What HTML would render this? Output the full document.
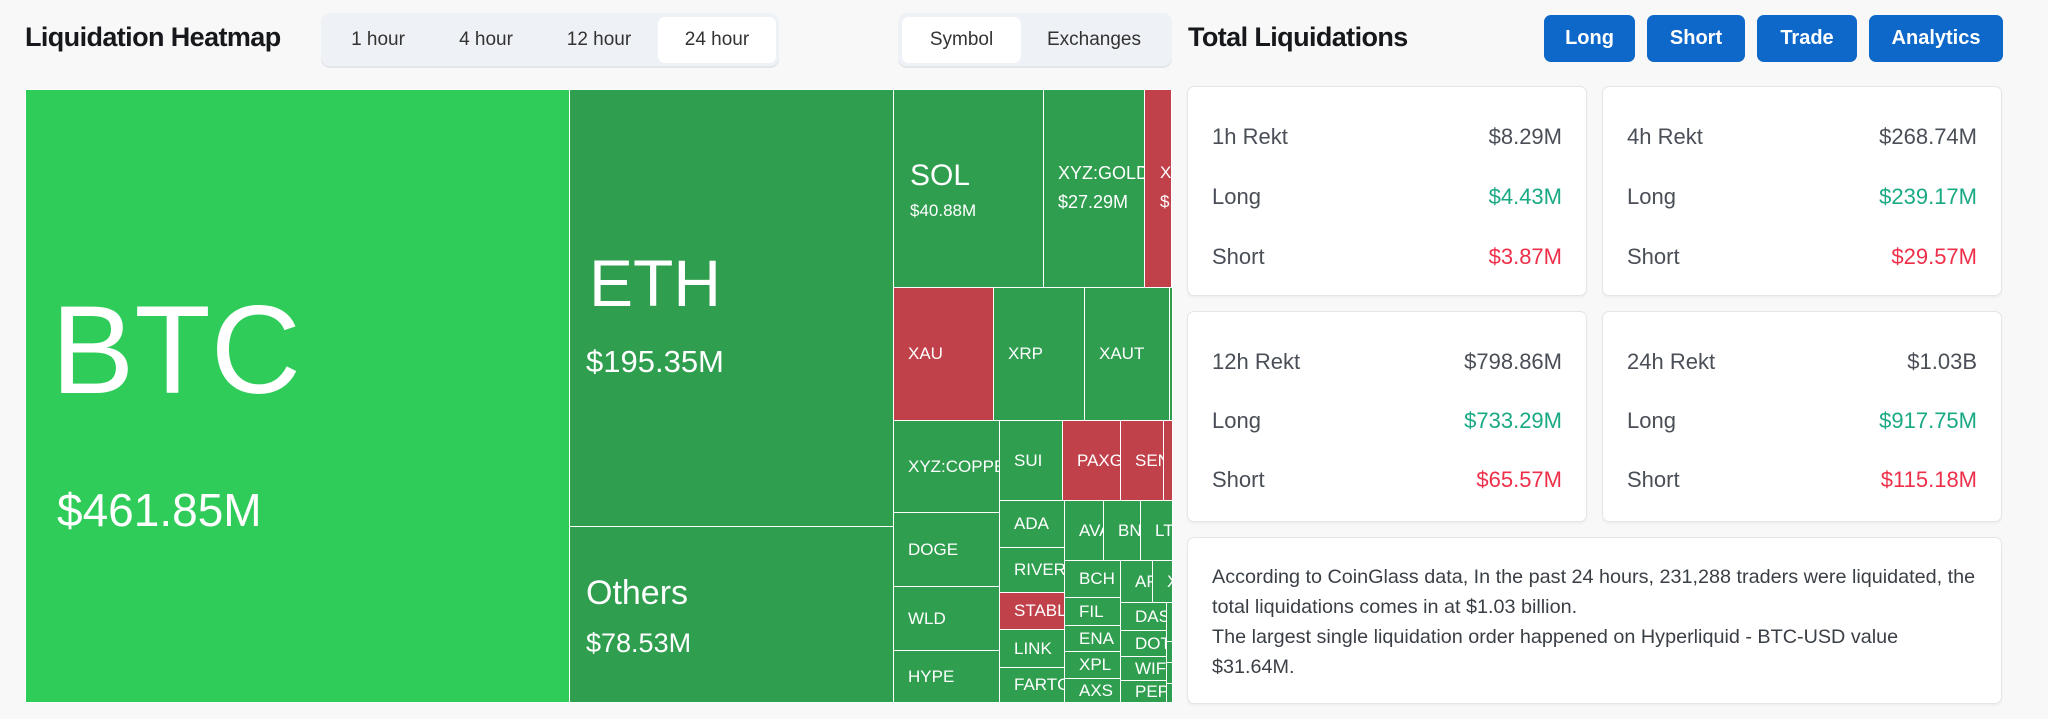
<!DOCTYPE html>
<html><head><meta charset="utf-8"><style>
*{box-sizing:border-box;margin:0;padding:0}
body{width:2048px;height:719px;background:#f8f8f8;font-family:"Liberation Sans",sans-serif;position:relative;overflow:hidden;color:#1f2328}
.a{position:absolute}
.h{font-weight:bold;font-size:27px;letter-spacing:-0.6px;color:#16181c}
.grp{background:#eef1f5;border-radius:9px;box-shadow:0 2px 0 #e2e5ea}
.tab{position:absolute;top:0;height:100%;display:flex;align-items:center;justify-content:center;font-size:19px;color:#333}
.act{background:#fff;border-radius:7px}
.btn{position:absolute;top:15px;height:47px;background:#0e68c9;color:#fff;border-radius:7px;font-weight:bold;font-size:20px;display:flex;align-items:center;justify-content:center}
.c{position:absolute;border:1px solid #fff;background:#2f9e4f;color:#fff;overflow:hidden;white-space:nowrap;font-size:17px;display:flex;align-items:center;padding-left:14px}
.r{background:#c1414a}
.card{position:absolute;background:#fff;border:1px solid #e3e5e8;border-radius:7px;box-shadow:0 2px 2px rgba(0,0,0,.04)}
.row{position:absolute;left:24px;right:24px;font-size:22px;color:#4a4f57;display:flex;justify-content:space-between}
.g{color:#1aa985}.rd{color:#ee2f4a}
</style></head><body>
<div class="a h" style="left:25px;top:22px">Liquidation Heatmap</div>
<div class="a grp" style="left:321px;top:13px;width:458px;height:53px">
<div class="tab" style="left:10px;width:94px">1 hour</div>
<div class="tab" style="left:118px;width:94px">4 hour</div>
<div class="tab" style="left:228px;width:100px">12 hour</div>
<div class="tab act" style="left:337px;top:4px;height:46px;width:118px">24 hour</div>
</div>
<div class="a grp" style="left:898px;top:13px;width:274px;height:53px">
<div class="tab act" style="left:4px;top:4px;height:46px;width:119px">Symbol</div>
<div class="tab" style="left:130px;width:132px">Exchanges</div>
</div>
<div class="a h" style="left:1188px;top:22px">Total Liquidations</div>
<div class="btn" style="left:1544px;width:91px">Long</div>
<div class="btn" style="left:1647px;width:98px">Short</div>
<div class="btn" style="left:1757px;width:100px">Trade</div>
<div class="btn" style="left:1869px;width:134px">Analytics</div>

<!-- treemap -->
<div class="c" style="left:25px;top:89px;width:545px;height:614px;background:#30cc5a;display:block;padding:0">
<div class="a" style="left:25px;top:198px;font-size:125px;line-height:1">BTC</div>
<div class="a" style="left:31px;top:397px;font-size:46px;line-height:1">$461.85M</div>
</div>
<div class="c" style="left:569px;top:89px;width:325px;height:438px;display:block;padding:0">
<div class="a" style="left:19px;top:160px;font-size:66px;line-height:1">ETH</div>
<div class="a" style="left:16px;top:256px;font-size:31px;line-height:1">$195.35M</div>
</div>
<div class="c" style="left:569px;top:526px;width:325px;height:177px;display:block;padding:0">
<div class="a" style="left:16px;top:49px;font-size:34px;line-height:1">Others</div>
<div class="a" style="left:16px;top:103px;font-size:27px;line-height:1">$78.53M</div>
</div>
<div class="c" style="left:893px;top:89px;width:151px;height:199px;display:block;padding:0">
<div class="a" style="left:16px;top:71px;font-size:30px;line-height:1">SOL</div>
<div class="a" style="left:16px;top:112px;font-size:17px;line-height:1">$40.88M</div>
</div>
<div class="c" style="left:1043px;top:89px;width:102px;height:199px;display:block;padding:0">
<div class="a" style="left:14px;top:74px;font-size:18px;line-height:1">XYZ:GOLD</div>
<div class="a" style="left:14px;top:103px;font-size:18px;line-height:1">$27.29M</div>
</div>
<div class="c r" style="left:1144px;top:89px;width:28px;height:199px;display:block;padding:0">
<div class="a" style="left:15px;top:74px;font-size:17px;line-height:1">XY</div>
<div class="a" style="left:15px;top:103px;font-size:17px;line-height:1">$1</div>
</div>
<div class="c r" style="left:893px;top:287px;width:101px;height:134px">XAU</div>
<div class="c" style="left:993px;top:287px;width:92px;height:134px">XRP</div>
<div class="c" style="left:1084px;top:287px;width:86px;height:134px">XAUT</div>
<div class="c" style="left:1169px;top:287px;width:4px;height:134px;padding:0"></div>
<div class="c" style="left:893px;top:420px;width:107px;height:93px">XYZ:COPPER</div>
<div class="c" style="left:999px;top:420px;width:64px;height:81px">SUI</div>
<div class="c r" style="left:1062px;top:420px;width:59px;height:81px">PAXG</div>
<div class="c r" style="left:1120px;top:420px;width:44px;height:81px">SEN</div>
<div class="c r" style="left:1163px;top:420px;width:10px;height:81px;padding:0"></div>
<div class="c" style="left:893px;top:512px;width:107px;height:75px">DOGE</div>
<div class="c" style="left:893px;top:586px;width:107px;height:65px">WLD</div>
<div class="c" style="left:893px;top:650px;width:107px;height:53px">HYPE</div>
<div class="c" style="left:999px;top:500px;width:66px;height:48px">ADA</div>
<div class="c" style="left:999px;top:547px;width:66px;height:46px">RIVER</div>
<div class="c r" style="left:999px;top:592px;width:66px;height:38px">STABLE</div>
<div class="c" style="left:999px;top:629px;width:66px;height:39px">LINK</div>
<div class="c" style="left:999px;top:667px;width:66px;height:36px">FARTCOIN</div>
<div class="c" style="left:1064px;top:500px;width:40px;height:61px">AVAX</div>
<div class="c" style="left:1103px;top:500px;width:38px;height:61px">BNB</div>
<div class="c" style="left:1140px;top:500px;width:33px;height:61px">LTC</div>
<div class="c" style="left:1064px;top:560px;width:57px;height:38px">BCH</div>
<div class="c" style="left:1064px;top:597px;width:57px;height:29px">FIL</div>
<div class="c" style="left:1064px;top:625px;width:57px;height:27px">ENA</div>
<div class="c" style="left:1064px;top:651px;width:57px;height:28px">XPL</div>
<div class="c" style="left:1064px;top:678px;width:57px;height:25px">AXS</div>
<div class="c" style="left:1120px;top:560px;width:33px;height:43px">APT</div>
<div class="c" style="left:1152px;top:560px;width:21px;height:43px">X</div>
<div class="c" style="left:1120px;top:602px;width:47px;height:29px">DASH</div>
<div class="c" style="left:1120px;top:630px;width:47px;height:27px">DOT</div>
<div class="c" style="left:1120px;top:656px;width:47px;height:25px">WIF</div>
<div class="c" style="left:1120px;top:680px;width:47px;height:23px">PEPE</div>
<div class="c" style="left:1166px;top:602px;width:7px;height:40px;padding:0"></div>
<div class="c" style="left:1166px;top:641px;width:7px;height:22px;padding:0"></div>
<div class="c" style="left:1166px;top:662px;width:7px;height:22px;padding:0"></div>
<div class="c" style="left:1166px;top:683px;width:7px;height:20px;padding:0"></div>

<!-- cards -->
<div class="card" style="left:1187px;top:86px;width:400px;height:210px">
<div class="row" style="top:37px"><span>1h Rekt</span><span>$8.29M</span></div>
<div class="row" style="top:97px"><span>Long</span><span class="g">$4.43M</span></div>
<div class="row" style="top:157px"><span>Short</span><span class="rd">$3.87M</span></div>
</div>
<div class="card" style="left:1602px;top:86px;width:400px;height:210px">
<div class="row" style="top:37px"><span>4h Rekt</span><span>$268.74M</span></div>
<div class="row" style="top:97px"><span>Long</span><span class="g">$239.17M</span></div>
<div class="row" style="top:157px"><span>Short</span><span class="rd">$29.57M</span></div>
</div>
<div class="card" style="left:1187px;top:311px;width:400px;height:211px">
<div class="row" style="top:37px"><span>12h Rekt</span><span>$798.86M</span></div>
<div class="row" style="top:96px"><span>Long</span><span class="g">$733.29M</span></div>
<div class="row" style="top:155px"><span>Short</span><span class="rd">$65.57M</span></div>
</div>
<div class="card" style="left:1602px;top:311px;width:400px;height:211px">
<div class="row" style="top:37px"><span>24h Rekt</span><span>$1.03B</span></div>
<div class="row" style="top:96px"><span>Long</span><span class="g">$917.75M</span></div>
<div class="row" style="top:155px"><span>Short</span><span class="rd">$115.18M</span></div>
</div>
<div class="card" style="left:1187px;top:537px;width:815px;height:167px">
<div class="a" style="left:24px;top:24px;width:768px;font-size:19.8px;line-height:30px;color:#3a3f46">According to CoinGlass data, In the past 24 hours, 231,288 traders were liquidated, the total liquidations comes in at $1.03 billion.<br>The largest single liquidation order happened on Hyperliquid - BTC-USD value $31.64M.</div>
</div>
</body></html>
